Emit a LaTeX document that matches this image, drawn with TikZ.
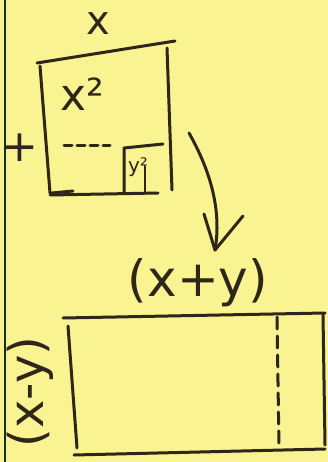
\documentclass[tikz,border=0pt]{standalone}
\usepackage{fontspec}
\setmainfont{DejaVu Sans}
\begin{document}
\begin{tikzpicture}[x=1pt,y=-1pt,
  ink/.style={draw=inkc,line width=3pt,line cap=round,line join=round},
  lbl/.style={text=inkc,inner sep=0pt},
  dashln/.style={ink,dash pattern=on 8pt off 5pt}]
\definecolor{inkc}{RGB}{45,38,25}
\definecolor{paper}{RGB}{250,243,145}
\useasboundingbox (0,0) rectangle (328,462);
\fill[paper] (0,0) rectangle (328,462);
\draw[draw={rgb,255:red,20;green,45;blue,30},line width=2pt] (5,0) -- (5,462);
% top square
\coordinate (tl) at (37,63);
\coordinate (tr) at (175,41);
\coordinate (rt) at (167,48);
\coordinate (rb) at (172,190);
\coordinate (lt) at (40,66);
\coordinate (lb) at (50,193);
\coordinate (bl) at (50,195);
\coordinate (br) at (158,193);
\draw[ink] (tl) -- (tr);
\draw[ink] (lt) -- (lb);
\draw[ink] (rt) -- (rb);
\draw[ink] (bl) -- (br);
\draw[ink] (52,193) -- (73,191);
\coordinate (d1) at (64,146);
\coordinate (d2) at (110,146);
\draw[dashln] (d1) -- (d2);
\coordinate (s2) at (163,144);
\coordinate (s3) at (124,192);
\coordinate (s4) at (145,166);
\coordinate (s5) at (145,192);
\draw[ink] (s3) -- (124,148) -- (s2);
\draw[ink,line width=2.4pt] (s4) -- (s5);
\node[lbl,font=\fontsize{20}{20}\selectfont] (ysq) at (138,167) {y²};
\node[lbl,font=\fontsize{44}{44}\selectfont] (x2) at (82,94) {x²};
\node[lbl,font=\fontsize{40}{40}\selectfont] (xtop) at (98,24) {x};
\node[lbl,font=\fontsize{44}{44}\selectfont] (plus) at (20,148) {+};
% arrow
\coordinate (a0) at (189,133);
\coordinate (a1) at (215,250);
\draw[ink] (a0) .. controls (210,170) and (222,210) .. (a1);
\draw[ink] (204,214) -- (a1) -- (243,216);
% bottom rectangle
\coordinate (bt1) at (63,318);
\coordinate (bt2) at (325,313);
\coordinate (bl1) at (68,326);
\coordinate (bl2) at (77,448);
\coordinate (bb1) at (74,455);
\coordinate (bb2) at (325,449);
\coordinate (br1) at (323,315);
\coordinate (br2) at (325,445);
\draw[ink] (bt1) -- (bt2);
\draw[ink] (bl1) -- (bl2);
\draw[ink] (bb1) -- (bb2);
\draw[ink] (br1) -- (br2);
\coordinate (dv1) at (277,317);
\coordinate (dv2) at (279,448);
\draw[ink,dash pattern=on 12pt off 7pt] (dv1) -- (dv2);
\node[lbl,font=\fontsize{50}{50}\selectfont] (xpy) at (198,283) {(x+y)};
\node[lbl,font=\fontsize{48}{48}\selectfont,rotate=90] (xmy) at (30,392) {(x-y)};
\end{tikzpicture}
\end{document}
